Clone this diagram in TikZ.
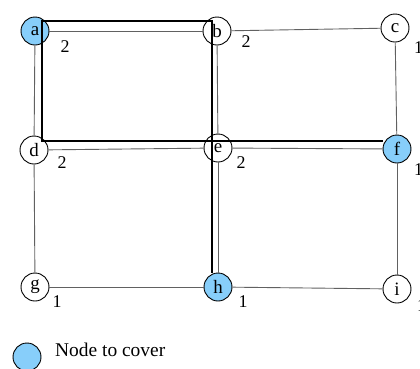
\documentclass[tikz,border=0pt]{standalone}
\usepackage{fontspec}
\setmainfont{Liberation Serif}
\definecolor{cover}{RGB}{135,206,250}
\begin{document}
\begin{tikzpicture}[x=1bp,y=-1bp,
  vtx/.style={circle,draw=black,line width=0.9bp,fill=white,minimum size=28bp,inner sep=0pt,font=\fontsize{19}{19}\selectfont},
  covered/.style={vtx,fill=cover},
  edge/.style={draw=black!62,line width=0.9bp},
  pathline/.style={draw=black,line width=1.2bp},
  wlabel/.style={inner sep=0pt,font=\fontsize{18}{18}\selectfont}]
\useasboundingbox (0,0) rectangle (420,369);
% vertices
\node[covered] (a) at (35,31) {a};
\node[vtx] (b) at (217,31) {b};
\node[vtx] (c) at (395,28) {c};
\node[vtx] (d) at (34,150) {d};
\node[vtx] (e) at (218,148) {e};
\node[covered] (f) at (397,149) {f};
\node[vtx] (g) at (35,287) {g};
\node[covered] (h) at (218,287) {h};
\node[vtx] (i) at (397,289) {i};
% edges
\draw[edge] (a) -- (b);
\draw[edge] (b) -- (c);
\draw[edge] (d) -- (e);
\draw[edge] (e) -- (f);
\draw[edge] (g) -- (h);
\draw[edge] (h) -- (i);
\draw[edge] (a) -- (d);
\draw[edge] (d) -- (g);
\draw[edge] (b) -- (e);
\draw[edge] (e) -- (h);
\draw[edge] (c) -- (f);
\draw[edge] (f) -- (i);
% weights
\node[wlabel] (wa) at (65,47) {2};
\node[wlabel] (wb) at (246,42) {2};
\node[wlabel] (wc) at (418.5,48) {1};
\node[wlabel] (wd) at (62,163) {2};
\node[wlabel] (we) at (241,163) {2};
\node[wlabel] (wf) at (418.5,170) {1};
\node[wlabel] (wg) at (57,302) {1};
\node[wlabel] (wh) at (243,302) {1};
\node[wlabel] (wi) at (421.5,305.5) {1};
% highlighted route
\coordinate (t1) at (42,21);
\coordinate (t2) at (212,21);
\coordinate (b1) at (42,141);
\draw[pathline] (t2 |- h.north) -- (t2) -- (t1) -- (b1) -- (b1 -| f.west);
% legend
\node[covered] (key) at (27,357) {};
\node[anchor=base west,inner sep=0pt,font=\fontsize{19.5}{19.5}\selectfont] (keytext) at (55,356) {Node to cover};
\end{tikzpicture}
\end{document}
